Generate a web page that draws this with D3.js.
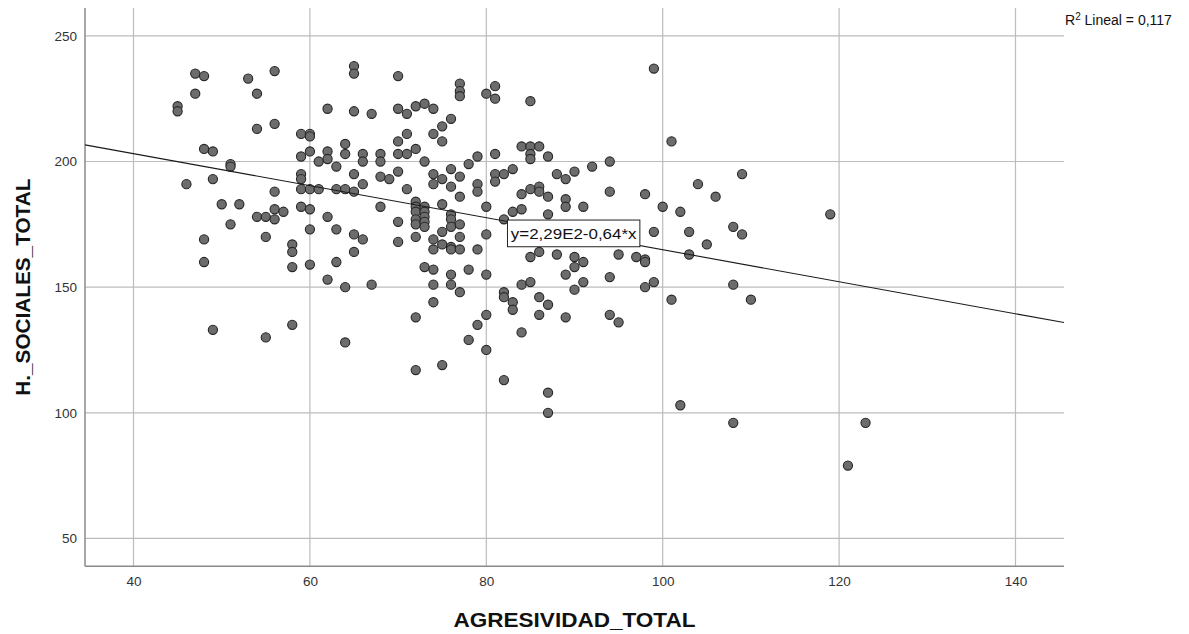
<!DOCTYPE html>
<html>
<head>
<meta charset="utf-8">
<script src="https://cdn.jsdelivr.net/npm/d3@7"></script>
<style>
  html, body { margin: 0; padding: 0; background: #ffffff; }
  svg { display: block; }
  text { font-family: "Liberation Sans", Arial, sans-serif; }
</style>
</head>
<body>
<svg id="chart" width="1189" height="634"></svg>
<script>
// ---- Data ----
const agresividad = [
  45,45, 46, 47,47, 48,48,48,48, 49,49,49, 50, 51,51,51, 52, 53, 54,54,54, 55,55,55,
  56,56,56,56,56, 57, 58,58,58,58, 59,59,59,59,59,59, 60,60,60,60,60,60,60, 61,61,
  62,62,62,62,62, 63,63,63,63, 64,64,64,64,64, 65,65,65,65,65,65,65, 66,66,66,66,
  67,67, 68,68,68,68, 69, 70,70,70,70,70,70,70, 71,71,71,71,
  72,72,72,72,72,72,72,72,72,72, 73,73,73,73,73,73,73,73,
  74,74,74,74,74,74,74,74,74, 75,75,75,75,75,75,75, 76,76,76,76,76,76,76,76,76,76,
  77,77,77,77,77,77,77,77,77, 78,78,78, 79,79,79,79,79, 80,80,80,80,80,80,
  81,81,81,81,81, 82,82,82,82,82, 83,83,83,83, 84,84,84,84,84,
  85,85,85,85,85,85,85, 86,86,86,86,86,86, 87,87,87,87,87,87, 88,88,
  89,89,89,89,89, 90,90,90,90, 91,91,91, 92, 94,94,94,94, 95,95, 97,
  98,98,98,98, 99,99,99, 100, 101,101, 102,102, 103,103, 104, 105, 106,
  108,108,108, 109,109, 110, 119, 121, 123
];
const hSociales = [
  222,220, 191, 235,227, 234,205,169,160, 204,193,133, 183, 199,198,175, 183, 233, 227,213,178, 178,170,130,
  236,215,188,181,177, 180, 167,164,158,135, 211,202,195,193,189,182, 211,210,204,189,181,173,159, 200,189,
  221,204,201,178,153, 198,189,173,160, 207,203,189,150,128, 238,235,220,195,188,171,164, 203,200,191,169,
  219,151, 203,200,194,182, 193, 234,221,208,203,196,176,168, 219,211,203,189,
  222,205,184,182,180,177,175,170,138,117, 223,200,182,180,178,176,174,158,
  221,211,195,191,169,165,157,151,144, 214,208,193,183,172,167,119, 217,197,190,179,177,174,166,165,155,151,
  231,228,226,194,186,175,170,165,148, 199,157,129, 202,191,188,165,135, 227,182,171,155,139,125,
  230,225,203,195,192, 195,177,148,146,113, 197,180,144,141, 206,187,181,151,132,
  224,206,203,201,189,162,152, 206,190,188,164,146,139, 202,186,179,143,108,100, 195,163,
  193,185,182,155,138, 196,162,158,149, 182,160,152, 198, 200,188,154,139, 163,136, 162,
  187,161,160,150, 237,172,152, 182, 208,145, 180,103, 172,163, 191, 167, 186,
  174,151,96, 195,171, 145, 179, 79, 96
];
const xTicks = [40, 60, 80, 100, 120, 140];
const yTicks = [50, 100, 150, 200, 250];
const fitIntercept = 228.6;
const fitSlope = -0.637;
const equationLabel = "y=2,29E2-0,64*x";
const r2Value = "0,117";
const xTitle = "AGRESIVIDAD_TOTAL";
const yTitle = "H._SOCIALES_TOTAL";

// ---- Layout ----
const xDomain = [34.5, 145.5];
const yDomain = [38.9, 261.1];
const plot = { left: 85, right: 1064, top: 8, bottom: 566.3 };

const svg = d3.select("#chart");
const x = d3.scaleLinear().domain(xDomain).range([plot.left, plot.right]);
const y = d3.scaleLinear().domain(yDomain).range([plot.bottom, plot.top]);

// gridlines
const grid = svg.append("g");
grid.selectAll("line.vx").data(xTicks).join("line")
  .attr("x1", d => x(d)).attr("x2", d => x(d))
  .attr("y1", plot.top).attr("y2", plot.bottom)
  .attr("stroke", "#bcbcbc").attr("stroke-width", 1.2);
grid.selectAll("line.hy").data(yTicks).join("line")
  .attr("x1", plot.left).attr("x2", plot.right)
  .attr("y1", d => y(d)).attr("y2", d => y(d))
  .attr("stroke", "#bcbcbc").attr("stroke-width", 1.2);

// axes (no tick marks, labels only)
const xAxis = d3.axisBottom(x).tickValues(xTicks).tickSize(0).tickPadding(10);
const yAxis = d3.axisLeft(y).tickValues(yTicks).tickSize(0).tickPadding(8);

const gx = svg.append("g").attr("transform", `translate(0,${plot.bottom})`).call(xAxis);
gx.select(".domain").remove();
gx.selectAll("text").attr("font-size", 13.5).attr("fill", "#333").attr("font-family", "Liberation Sans, Arial, sans-serif");

const gy = svg.append("g").attr("transform", `translate(${plot.left},0)`).call(yAxis);
gy.select(".domain").remove();
gy.selectAll("text").attr("font-size", 13.5).attr("fill", "#333").attr("font-family", "Liberation Sans, Arial, sans-serif");

// axis lines
svg.append("line").attr("x1", plot.left).attr("x2", plot.left)
  .attr("y1", plot.top).attr("y2", plot.bottom)
  .attr("stroke", "#8a8a8a").attr("stroke-width", 1.5);
svg.append("line").attr("x1", plot.left).attr("x2", plot.right)
  .attr("y1", plot.bottom).attr("y2", plot.bottom)
  .attr("stroke", "#8a8a8a").attr("stroke-width", 1.5);

// points
const pts = agresividad.map((v, i) => ({ x: v, y: hSociales[i] }));
svg.append("g").selectAll("circle").data(pts).join("circle")
  .attr("cx", d => x(d.x)).attr("cy", d => y(d.y)).attr("r", 4.6)
  .attr("fill", "#6c6c6c").attr("stroke", "#262626").attr("stroke-width", 1.1);

// regression line
const fit = v => fitIntercept + fitSlope * v;
svg.append("line")
  .attr("x1", x(xDomain[0])).attr("y1", y(fit(xDomain[0])))
  .attr("x2", x(xDomain[1])).attr("y2", y(fit(xDomain[1])))
  .attr("stroke", "#1a1a1a").attr("stroke-width", 1.1);

// equation box
const bx = x(82.4), by = y(fit(82.4)) - 1.5;
svg.append("rect").attr("x", bx).attr("y", by).attr("width", 132.4).attr("height", 26.7)
  .attr("fill", "#fff").attr("stroke", "#222").attr("stroke-width", 1);
svg.append("text").attr("x", bx + 3.4).attr("y", by + 18.5)
  .attr("font-size", 15).attr("fill", "#111")
  .attr("textLength", 125.6).attr("lengthAdjust", "spacingAndGlyphs")
  .text(equationLabel);

// R2 label
const r2 = svg.append("text").attr("x", 1065).attr("y", 25).attr("font-size", 14).attr("fill", "#111");
r2.append("tspan").text("R");
r2.append("tspan").attr("font-size", 10).attr("dy", -5).text("2");
r2.append("tspan").attr("dy", 5).text(" Lineal = " + r2Value);

// titles
svg.append("text").attr("x", (plot.left + plot.right) / 2).attr("y", 627)
  .attr("text-anchor", "middle").attr("font-size", 20).attr("font-weight", "bold").attr("fill", "#111")
  .attr("textLength", 242).attr("lengthAdjust", "spacingAndGlyphs")
  .text(xTitle);
svg.append("text").attr("transform", `translate(30,${(plot.top + plot.bottom) / 2}) rotate(-90)`)
  .attr("text-anchor", "middle").attr("font-size", 20).attr("font-weight", "bold").attr("fill", "#111")
  .attr("textLength", 217).attr("lengthAdjust", "spacingAndGlyphs")
  .text(yTitle);
</script>
</body>
</html>
